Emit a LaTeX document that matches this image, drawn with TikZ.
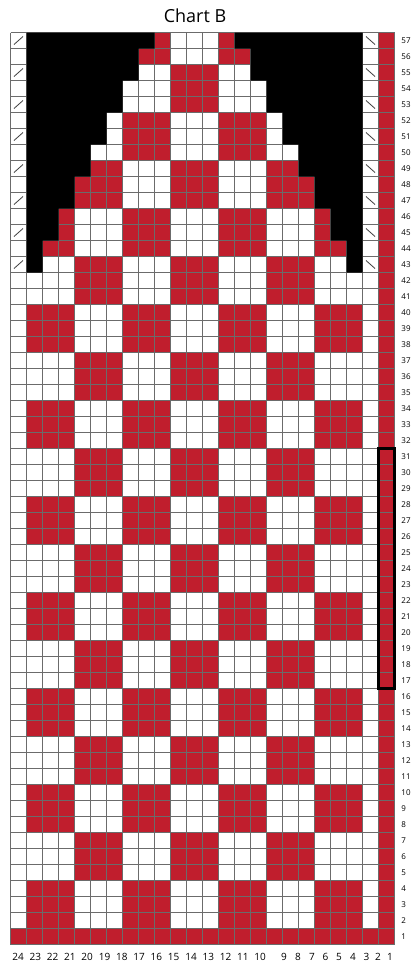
\documentclass[tikz,border=0pt]{standalone}
\usepackage{fontspec}
\setmainfont{Open Sans}
\definecolor{chartred}{RGB}{192,30,45}
\begin{document}
\begin{tikzpicture}[x=0.75pt,y=-0.75pt,
  gridline/.style={draw=black!58,line width=0.55pt},
  diagmark/.style={draw=black!75,line width=0.6pt},
  boldframe/.style={draw=black,line width=2pt},
  collabel/.style={inner sep=0pt,anchor=center,font=\fontsize{7.5}{9}\selectfont},
  rowlabel/.style={inner sep=0pt,anchor=west,font=\fontsize{6}{7}\selectfont},
  titlelabel/.style={inner sep=0pt,anchor=center,font=\fontsize{13.5}{15}\selectfont}]
\useasboundingbox (0,0) rectangle (411,967);
% background cells
\fill[white] (10.5,32.5) rectangle (394.5,944.5);
\fill[chartred] (378.5,32.5) rectangle (394.5,944.5);
\fill[chartred] (10.5,928.5) rectangle (394.5,944.5);
% checker blocks
\foreach \br in {0,...,18}{
  \foreach \bc in {0,...,6}{
    \pgfmathtruncatemacro\isred{mod(\br+\bc,2)==0 ? 1 : 0}
    \ifnum\isred=1
      \pgfmathsetmacro\xa{26.5+48*\bc}
      \pgfmathsetmacro\yb{32.5+(56-3*\br)*16}
      \pgfmathsetmacro\ya{max(32.5,\yb-48)}
      \fill[chartred] (\xa,\ya) rectangle (\xa+48,\yb);
    \fi
  }
}
% grid
\foreach \k in {0,...,24}{\draw[gridline] (10.5+16*\k,32.5) -- (10.5+16*\k,944.5);}
\foreach \k in {0,...,57}{\draw[gridline] (10.5,32.5+16*\k) -- (394.5,32.5+16*\k);}
% black staircases
\fill[black] (26.5,32.5) -- (154.5,32.5) -- (154.5,48.5) -- (138.5,48.5) -- (138.5,80.5) -- (122.5,80.5) -- (122.5,112.5) -- (106.5,112.5) -- (106.5,144.5) -- (90.5,144.5) -- (90.5,176.5) -- (74.5,176.5) -- (74.5,208.5) -- (58.5,208.5) -- (58.5,240.5) -- (42.5,240.5) -- (42.5,272.5) -- (26.5,272.5) -- cycle;
\fill[black] (362.5,32.5) -- (234.5,32.5) -- (234.5,48.5) -- (250.5,48.5) -- (250.5,80.5) -- (266.5,80.5) -- (266.5,112.5) -- (282.5,112.5) -- (282.5,144.5) -- (298.5,144.5) -- (298.5,176.5) -- (314.5,176.5) -- (314.5,208.5) -- (330.5,208.5) -- (330.5,240.5) -- (346.5,240.5) -- (346.5,272.5) -- (362.5,272.5) -- cycle;
% decrease marks
\foreach \r in {43,45,...,57}{
  \pgfmathsetmacro\yt{32.5+(57-\r)*16}
  \draw[diagmark] (14,\yt+12) -- (23,\yt+4);
  \draw[diagmark] (366,\yt+4) -- (375,\yt+12);
}
% bold repeat frame
\draw[boldframe] (378.5,448.5) rectangle (394.5,688.5);
% title
\node[titlelabel] (title) at (195,16) {Chart B};
% column labels
\foreach \c/\xx in {24/18,23/35.3,22/52.6,21/69.9,20/87.2,19/104.5,18/121.8,17/139.1,16/156.4,15/173.7,14/191,13/208.3,12/225.6,11/242.9,10/260.2,9/284,8/298,7/312,6/325.5,5/339,4/353,3/366.5,2/378,1/390}{
  \node[collabel] (col\c) at (\xx,957) {\c};
}
% row labels
\foreach \r in {1,...,57}{
  \node[rowlabel] (row\r) at (401.2,{32.5+(57-\r)*16+8}) {\r};
}
\end{tikzpicture}
\end{document}
